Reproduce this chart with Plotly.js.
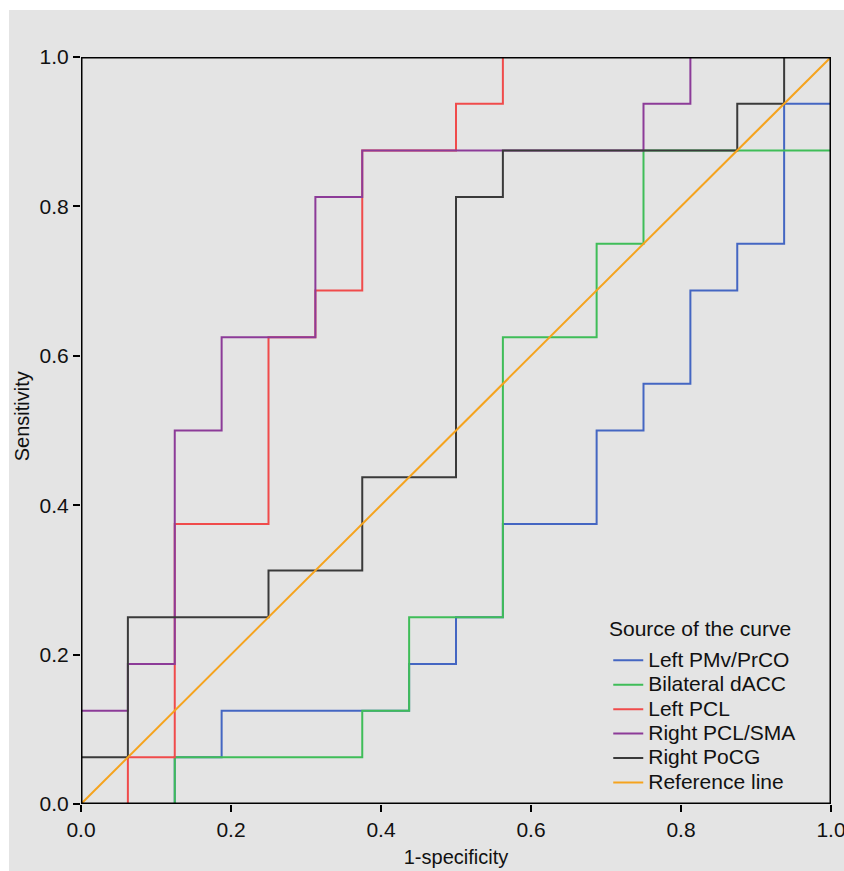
<!DOCTYPE html>
<html>
<head>
<meta charset="utf-8">
<script src="https://cdn.plot.ly/plotly-3.0.1.min.js"></script>
<style>
html,body{margin:0;padding:0;background:#ffffff;}
#chart{position:absolute;left:9px;top:10px;width:835px;height:861px;}
</style>
</head>
<body>
<div id="chart"></div>
<script>
// Series names
const seriesNames = ["Left PMv/PrCO", "Bilateral dACC", "Left PCL", "Right PCL/SMA", "Right PoCG", "Reference line"];
const seriesColors = ["#4466c2", "#3fbd58", "#f04b4b", "#8c3b98", "#3a3a3a", "#f5a31e"];
const legendTitle = "Source of the curve";

// ROC step curves (1-specificity, sensitivity)
const pmvX = [0, 0.125, 0.125, 0.1875, 0.1875, 0.4375, 0.4375, 0.5, 0.5, 0.5625, 0.5625, 0.6875, 0.6875, 0.75, 0.75, 0.8125, 0.8125, 0.875, 0.875, 0.9375, 0.9375, 1, 1];
const pmvY = [0, 0, 0.0625, 0.0625, 0.125, 0.125, 0.1875, 0.1875, 0.25, 0.25, 0.375, 0.375, 0.5, 0.5, 0.5625, 0.5625, 0.6875, 0.6875, 0.75, 0.75, 0.9375, 0.9375, 1];

const daccX = [0, 0.125, 0.125, 0.375, 0.375, 0.4375, 0.4375, 0.5625, 0.5625, 0.6875, 0.6875, 0.75, 0.75, 1, 1];
const daccY = [0, 0, 0.0625, 0.0625, 0.125, 0.125, 0.25, 0.25, 0.625, 0.625, 0.75, 0.75, 0.875, 0.875, 1];

const pclX = [0, 0.0625, 0.0625, 0.125, 0.125, 0.25, 0.25, 0.3125, 0.3125, 0.375, 0.375, 0.5, 0.5, 0.5625, 0.5625, 1];
const pclY = [0, 0, 0.0625, 0.0625, 0.375, 0.375, 0.625, 0.625, 0.6875, 0.6875, 0.875, 0.875, 0.9375, 0.9375, 1, 1];

const smaX = [0, 0, 0.0625, 0.0625, 0.125, 0.125, 0.1875, 0.1875, 0.3125, 0.3125, 0.375, 0.375, 0.75, 0.75, 0.8125, 0.8125, 1];
const smaY = [0, 0.125, 0.125, 0.1875, 0.1875, 0.5, 0.5, 0.625, 0.625, 0.8125, 0.8125, 0.875, 0.875, 0.9375, 0.9375, 1, 1];

const pocgX = [0, 0, 0.0625, 0.0625, 0.25, 0.25, 0.375, 0.375, 0.5, 0.5, 0.5625, 0.5625, 0.875, 0.875, 0.9375, 0.9375, 1];
const pocgY = [0, 0.0625, 0.0625, 0.25, 0.25, 0.3125, 0.3125, 0.4375, 0.4375, 0.8125, 0.8125, 0.875, 0.875, 0.9375, 0.9375, 1, 1];

const refX = [0, 1];
const refY = [0, 1];

// Axis ticks
const tickVals = [0, 0.2, 0.4, 0.6, 0.8, 1.0];
const tickText = ["0.0", "0.2", "0.4", "0.6", "0.8", "1.0"];
const axisRange = [0, 1];

const xs = [pmvX, daccX, pclX, smaX, pocgX, refX];
const ys = [pmvY, daccY, pclY, smaY, pocgY, refY];

const legendTextSize = 21;

const traces = seriesNames.map((name, i) => ({
  type: "scatter",
  mode: "lines",
  name: "<span style='font-size:" + legendTextSize + "px'>" + name + "</span>",
  x: xs[i],
  y: ys[i],
  line: {color: seriesColors[i], width: 2},
  hoverinfo: "x+y"
}));

const fontFam = "Liberation Sans, Arial, sans-serif";

const axisCommon = {
  range: axisRange,
  tickvals: tickVals,
  ticktext: tickText,
  showgrid: false,
  zeroline: false,
  showline: false,
  ticks: "outside",
  ticklen: 7,
  tickwidth: 2,
  tickcolor: "#000000",
  ticklabeloverflow: "allow",
  tickfont: {family: fontFam, size: 21, color: "#111111"}
};

const layout = {
  width: 835,
  height: 861,
  paper_bgcolor: "#e4e4e4",
  plot_bgcolor: "#e4e4e4",
  margin: {l: 72, r: 13, t: 47, b: 67},
  showlegend: true,
  font: {family: fontFam, color: "#111111"},
  xaxis: Object.assign({}, axisCommon, {
    title: {text: "1-specificity", font: {family: fontFam, size: 20, color: "#111111"}, standoff: 9}
  }),
  yaxis: Object.assign({}, axisCommon, {
    title: {text: ""}
  }),
  shapes: [{
    type: "rect",
    xref: "x", yref: "y",
    x0: axisRange[0], x1: axisRange[1], y0: axisRange[0], y1: axisRange[1],
    line: {color: "#000000", width: 3},
    fillcolor: "rgba(0,0,0,0)",
    layer: "above"
  }],
  annotations: [{
    text: "Sensitivity",
    textangle: -90,
    xref: "paper", yref: "paper",
    x: -0.0787, y: 0.519,
    xanchor: "center", yanchor: "middle",
    showarrow: false,
    font: {family: fontFam, size: 20, color: "#111111"}
  }, {
    text: legendTitle,
    xref: "paper", yref: "paper",
    x: 0.701, y: 0.2343,
    xanchor: "left", yanchor: "middle",
    showarrow: false,
    font: {family: fontFam, size: 21, color: "#111111"}
  }],
  legend: {
    x: 0.703,
    y: 0.2155,
    xanchor: "left",
    yanchor: "top",
    bgcolor: "rgba(0,0,0,0)",
    borderwidth: 0,
    font: {family: fontFam, size: 16.5, color: "#111111"},
    tracegroupgap: 0
  }
};

Plotly.newPlot("chart", traces, layout, {staticPlot: true, displayModeBar: false});
</script>
</body>
</html>
